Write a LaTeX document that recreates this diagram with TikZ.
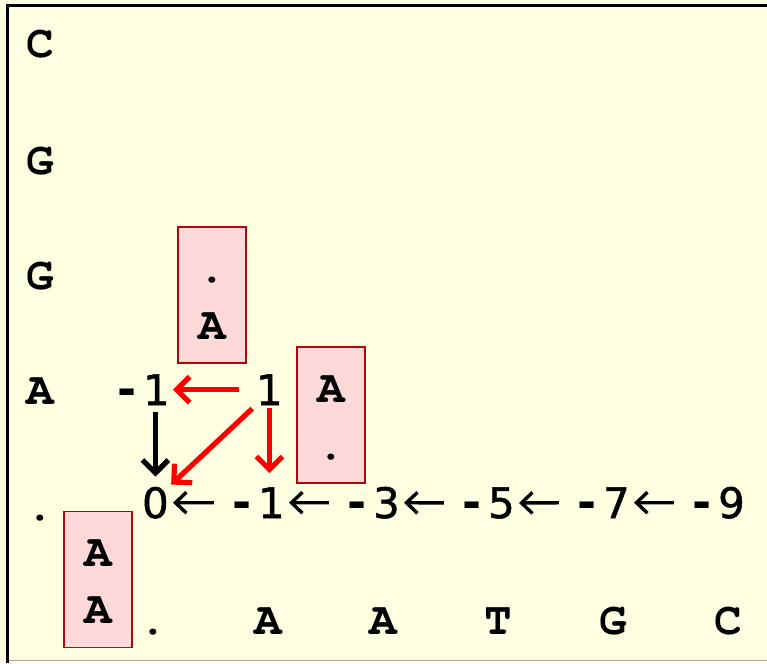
\documentclass[tikz,border=0pt]{standalone}
\usepackage{fontspec}
\usepackage{xcolor}
\usepackage{tikz}
\usetikzlibrary{arrows.meta, positioning, calc}
\newfontfamily\seqfont{texgyrecursor-bold.otf}
\newfontfamily\numfont{DejaVu Sans}[FakeBold=1.2]
\newfontfamily\dashfont{DejaVu Sans Bold}
\definecolor{paper}{HTML}{FFFFE1}
\definecolor{boxfill}{HTML}{FFD9D9}
\definecolor{boxline}{HTML}{B00808}
\newcommand{\pairstrut}{\rule[-11pt]{0pt}{53pt}}
\tikzstyle{seq} = [font=\seqfont\fontsize{46}{46}\selectfont, inner sep=0pt, anchor=base]
\tikzstyle{score} = [font=\numfont\fontsize{42}{42}\selectfont, inner sep=0pt, anchor=base east]
\tikzstyle{pairbox} = [draw=boxline, fill=boxfill, line width=1.8pt, minimum width=68pt, minimum height=136pt, inner sep=0pt, align=center, font=\seqfont\fontsize{46}{57}\selectfont]
\tikzstyle{trace} = [red, line width=5.2pt, -{Straight Barb[length=13pt,width=26pt]}]
\tikzstyle{gap} = [line width=3.4pt, -{Straight Barb[length=11pt,width=21pt]}, shorten <=19pt, shorten >=4pt]
\newcommand{\mn}{{\dashfont\fontsize{46}{46}\selectfont -}\kern6pt}

\begin{document}
\begin{tikzpicture}[x=1pt, y=-1pt]
% Paper and frame
\fill [paper] (0,0) rectangle (767,663);
\useasboundingbox (0,0) rectangle (767,663);
\draw [line width=3pt] (7.5,663) -- (7.5,5.5) -- (767,5.5);
\draw [gray!70, line width=1pt] (9,660.5) -- (767,660.5);

% Vertical sequence
\node (sC) at (40,58) [seq] {C};
\node (sG1) at (40,174) [seq] {G};
\node (sG2) at (40,289) [seq] {G};
\node (sA) at (40,404) [seq] {A};
\node (sdot) at (40,520) [seq] {.};

% Horizontal sequence
\node (tdot) at (153,634) [seq] {.};
\node (tA1) at (268,634) [seq] {A};
\node (tA2) at (383,634) [seq] {A};
\node (tT) at (498,634) [seq] {T};
\node (tG) at (613,634) [seq] {G};
\node (tC) at (728,634) [seq] {C};

% Scores
\node (n0) at (169,518) [score] {0};
\node (m1) at (285,518) [score] {\mn1};
\node (m3) at (400,518) [score] {\mn3};
\node (m5) at (515,518) [score] {\mn5};
\node (m7) at (630,518) [score] {\mn7};
\node (m9) at (745,518) [score] {\mn9};
\node (mA) at (170,405) [score] {\mn1};
\node (one) at (283,405) [score] {1};

% Aligned pairs
\node (pair1) at (212,295) [pairbox] {\pairstrut.\\\pairstrut A};
\node (pair2) at (331,415) [pairbox] {\pairstrut A\\\pairstrut.};
\node (pair3) at (98,579.5) [pairbox] {\pairstrut A\\\pairstrut A};

% Gap row
\draw [gap] (m1.west) -- (n0.east);
\draw [gap] (m3.west) -- (m1.east);
\draw [gap] (m5.west) -- (m3.east);
\draw [gap] (m7.west) -- (m5.east);
\draw [gap] (m9.west) -- (m7.east);

% Traceback
\draw [trace, black, shorten <=7pt, shorten >=10pt] (n0.north |- mA.south) -- (n0.north);
\draw [trace, shorten <=17pt, shorten >=3pt] (one.west) -- (mA.east);
\draw [trace, shorten <=5pt, shorten >=3pt] (one.south west) -- (n0.north east);
\draw [trace, shorten <=3pt, shorten >=14pt] (one.south) -- (one.south |- m1.north);

\end{tikzpicture}
\end{document}
